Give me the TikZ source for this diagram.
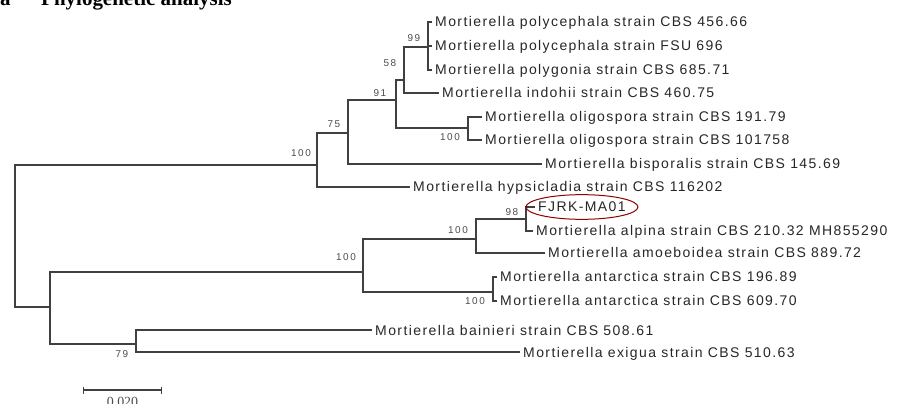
\documentclass[tikz,border=0pt]{standalone}
\usepackage{fontspec}
\setmainfont{Liberation Serif}
\newfontfamily\taxonfont[LetterSpace=10]{Liberation Sans}
\newfontfamily\bsfont[LetterSpace=15]{Liberation Sans}
\usetikzlibrary{arrows.meta}
\tikzset{
  twig/.style={draw=black!75, line width=0.04cm},
  taxon/.style={anchor=west, inner sep=0.09cm, text height=0.3cm, text depth=0pt,
    text=black!85, font=\taxonfont\fontsize{11.95}{14}\selectfont},
  bsval/.style={inner sep=0pt, text=black!70, font=\bsfont\fontsize{8.5}{10}\selectfont},
  heading/.style={anchor=base west, inner sep=0pt, font=\bfseries\fontsize{17.9}{20}\selectfont},
  ring/.style={draw=red!55!black, line width=0.03cm}
}

\begin{document}
\begin{tikzpicture}[x=0.03cm, y=-0.03cm]
        \useasboundingbox (0,0) rectangle (898,404);

        % Heading (cut off at the top)
        \node[heading] (tag) at (0,6) {a};
        \node[heading] (title) at (41,6) {Phylogenetic analysis};

        % Internal nodes
        \coordinate (R) at (15,236);
        \coordinate (A) at (317,165);
        \coordinate (B) at (348,133);
        \coordinate (C) at (396,100);
        \coordinate (D) at (404,80);
        \coordinate (E) at (428,47);
        \coordinate (O) at (468,128);
        \coordinate (J) at (50,307);
        \coordinate (H) at (363,272);
        \coordinate (G) at (476,239);
        \coordinate (F) at (526,219);
        \coordinate (I) at (493,292);
        \coordinate (K) at (136,344);

        % Taxa
        \foreach \n/\x/\y/\t in {
            p1/432/22/Mortierella polycephala strain CBS 456.66,
            p2/432/46/Mortierella polycephala strain FSU 696,
            p3/432/70/Mortierella polygonia strain CBS 685.71,
            p4/439/93/Mortierella indohii strain CBS 460.75,
            o1/482/117/Mortierella oligospora strain CBS 191.79,
            o2/482/140/Mortierella oligospora strain CBS 101758,
            b1/542/164/Mortierella bisporalis strain CBS 145.69,
            h1/410/187/Mortierella hypsicladia strain CBS 116202,
            f1/535/207/FJRK-MA01,
            a1/533/231/Mortierella alpina strain CBS 210.32 MH855290,
            a2/545/253/Mortierella amoeboidea strain CBS 889.72,
            n1/497/277/Mortierella antarctica strain CBS 196.89,
            n2/497/301/Mortierella antarctica strain CBS 609.70,
            b2/372/330/Mortierella bainieri strain CBS 508.61,
            e1/520/352/Mortierella exigua strain CBS 510.63} {
            \node[taxon] (\n) at (\x,\y) {\t};
        }

        % Branches
        \foreach \p/\c in {R/A, R/J, A/B, A/h1, B/C, B/b1, C/D, C/O, D/E, D/p4,
            E/p1, E/p2, E/p3, O/o1, O/o2, J/H, J/K, H/G, H/I, G/F, G/a2,
            F/f1, F/a1, I/n1, I/n2, K/b2, K/e1} {
            \draw[twig] (\p) |- (\c);
        }

        % Bootstrap values
        \foreach \n/\x/\y/\v in {
            sA/301/153/100, sB/334/124/75, sC/380/93/91, sD/390/63/58,
            sE/414/38/99, sO/450/137/100, sH/346/257/100, sG/458/230/100,
            sF/512/212/98, sI/475/301/100, sK/122/354/79} {
            \node[bsval] (\n) at (\x,\y) {\v};
        }

        % Our isolate
        \draw[ring] (f1.center) ellipse [x radius=1.68cm, y radius=0.37cm];

        % Scale bar
        \coordinate (s0) at (83,390);
        \coordinate (s1) at (162,390);
        \draw[twig, {Bar[width=0.21cm]}-{Bar[width=0.21cm]}] (s0) -- (s1);
        \node[anchor=north, inner sep=0pt, text=black!70, font=\fontsize{11.9}{14}\selectfont] (slabel) at (122.5,397) {0.020};

    \end{tikzpicture}
\end{document}
